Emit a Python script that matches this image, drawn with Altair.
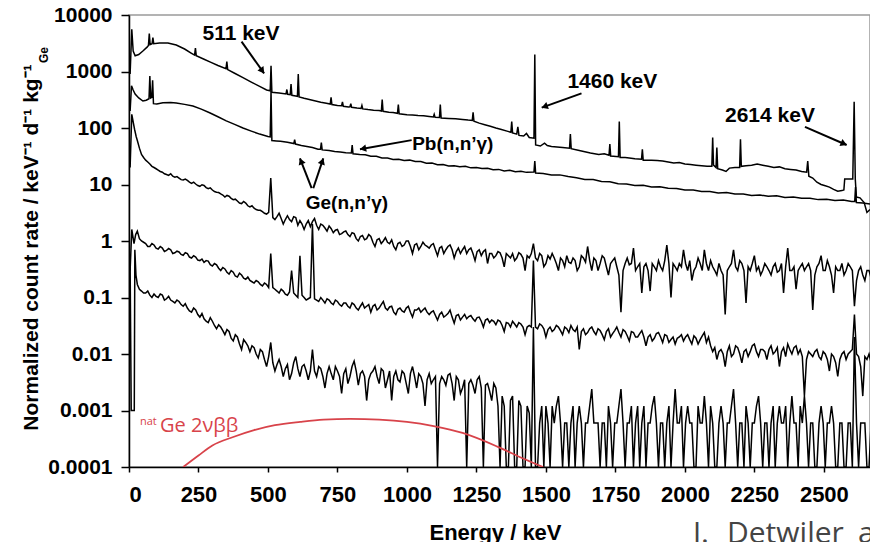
import math
import altair as alt
import pandas as pd

# ---------------- data ----------------
# Series A (top spectrum): (energy keV, rate)
A_POINTS = [
    (4, 900), (10, 5600), (15, 2300), (22, 1900), (35, 2000), (50, 2300), (65, 2700), (70, 2900),
    (73, 4700), (76, 3000), (83, 3100), (86, 4000), (89, 3100), (110, 3200), (140, 3200), (170, 2950),
    (200, 2500), (225, 2100), (236, 1950), (239, 2600), (242, 1900), (270, 1650), (295, 1450),
    (320, 1280), (349, 1120), (352, 1500), (355, 1080), (380, 930), (410, 780), (440, 650), (470, 545),
    (495, 470), (508, 455), (511, 1260), (514, 430), (540, 415), (565, 400), (568, 480), (571, 395),
    (580, 390), (583, 600), (586, 380), (600, 370), (606, 365), (609, 900), (612, 355), (630, 335),
    (660, 310), (690, 285), (710, 275), (724, 265), (727, 350), (730, 260), (750, 250), (765, 248),
    (768, 290), (771, 243), (790, 236), (795, 238), (798, 270), (801, 232), (820, 225), (835, 222),
    (838, 250), (841, 218), (860, 212), (880, 207), (900, 204), (908, 200), (911, 320), (914, 197),
    (935, 190), (950, 188), (966, 182), (969, 260), (972, 178), (1000, 172), (1020, 170), (1040, 166),
    (1060, 164), (1080, 160), (1095, 157), (1098, 175), (1101, 155), (1117, 153), (1120, 260),
    (1123, 150), (1150, 148), (1175, 146), (1200, 142), (1220, 138), (1235, 136), (1238, 190),
    (1241, 132), (1260, 122), (1280, 114), (1300, 107), (1320, 100), (1340, 94), (1360, 88),
    (1374, 84), (1377, 130), (1380, 82), (1395, 78), (1399, 105), (1403, 74), (1420, 72), (1430, 80),
    (1440, 68), (1457, 66), (1460, 2000), (1463, 50), (1480, 48), (1495, 54), (1505, 49), (1520, 47),
    (1540, 46), (1560, 45), (1585, 44), (1588, 78), (1591, 43), (1620, 40), (1640, 38), (1660, 36),
    (1690, 34), (1710, 35), (1727, 33), (1730, 52), (1733, 32), (1761, 31), (1764, 130), (1767, 30),
    (1785, 30), (1800, 29.5), (1820, 28.5), (1844, 28), (1847, 42), (1850, 27), (1880, 27),
    (1900, 26.5), (1920, 26), (1940, 25), (1960, 24), (1980, 24.5), (2000, 23), (2020, 22.5),
    (2040, 22), (2060, 21.5), (2080, 21), (2097, 21), (2100, 68), (2103, 22), (2112, 20), (2115, 45),
    (2118, 19), (2135, 18), (2148, 17), (2160, 19.5), (2180, 20), (2197, 20), (2200, 63), (2203, 21),
    (2220, 21.5), (2240, 22), (2260, 23), (2280, 22), (2300, 21), (2320, 20), (2340, 20.5),
    (2360, 19), (2380, 18.5), (2400, 18), (2420, 17), (2438, 16.5), (2442, 26), (2446, 14),
    (2460, 13), (2475, 11), (2490, 10), (2505, 9.5), (2520, 9), (2535, 8.2), (2550, 7.6), (2565, 7.8),
    (2572, 8), (2575, 12.5), (2598, 12.5), (2604, 12.5), (2609, 290), (2613, 12.5), (2617, 6),
    (2630, 5.8), (2645, 4.8), (2655, 3.2), (2666, 3.6),
]

# Series B (second spectrum)
B_POINTS = [
    (4, 200), (9, 560), (15, 470), (22, 400), (35, 340), (50, 300), (62, 310), (72, 330), (75, 830),
    (78, 340), (82, 350), (85, 700), (88, 270), (100, 265), (122, 280), (150, 282), (170, 276),
    (200, 262), (230, 245), (260, 216), (290, 186), (320, 158), (350, 134), (380, 116), (410, 100),
    (440, 88), (470, 78), (500, 71), (508, 70), (511, 450), (514, 60), (530, 59), (545, 58), (570, 56),
    (593, 53), (596, 62), (599, 52), (620, 49), (640, 47), (660, 45), (680, 42), (689, 42), (692, 55),
    (695, 41), (720, 40), (740, 38.5), (760, 37.5), (780, 36.5), (800, 36), (803, 50), (806, 35),
    (830, 34), (850, 33.5), (870, 31.5), (890, 31.5), (910, 29.5), (930, 29.5), (950, 27.8),
    (970, 28), (990, 26.5), (1010, 27), (1030, 25.5), (1050, 25.5), (1070, 23.8), (1090, 24),
    (1110, 22.3), (1130, 22.5), (1150, 21.2), (1170, 21.5), (1190, 20.6), (1210, 21), (1230, 19.7),
    (1250, 20), (1270, 19.2), (1290, 19.3), (1310, 18.3), (1330, 18.5), (1350, 17.3), (1370, 17.8),
    (1390, 16.8), (1410, 17.2), (1430, 16.4), (1457, 16.6), (1460, 26), (1463, 16), (1490, 15.7),
    (1520, 14.8), (1550, 14.8), (1580, 13.8), (1610, 13.2), (1640, 12.3), (1670, 12.2), (1700, 11.3),
    (1730, 11.2), (1760, 10.3), (1790, 10.2), (1820, 9.6), (1850, 9.7), (1880, 9.0), (1910, 9.1),
    (1940, 8.6), (1970, 8.5), (2000, 8.0), (2030, 8.0), (2060, 7.5), (2090, 7.5), (2120, 7.1),
    (2150, 7.2), (2180, 6.8), (2210, 6.8), (2240, 6.4), (2270, 6.5), (2300, 6.2), (2330, 6.3),
    (2360, 5.9), (2390, 6.0), (2420, 5.7), (2450, 5.7), (2480, 5.4), (2510, 5.5), (2540, 5.2),
    (2570, 5.3), (2600, 5.0), (2611, 5.0), (2614, 9), (2617, 4.8), (2640, 4.7), (2666, 4.5),
]

# Noisy spectra C, D, E: hand-read points at very low energy, then one value per 15-keV bin
# (GRID_E) plus one value at each half-bin in between (GRID_MID).
GRID_E = list(range(30, 2671, 15))
GRID_MID = [e + 7.5 for e in GRID_E[:-1]]

C_PRE = [(4, 20), (10, 175), (20, 95), (26, 70)]
C_VALS = [
    60, 34, 27, 23, 20, 18, 16.5, 15, 15.5, 13.5,
    13, 12, 11.8, 10.5, 10.2, 9.3, 9.6, 8.4, 8.0, 7.3,
    6.8, 6.0, 6.2, 5.4, 5.1, 4.6, 4.7, 4.0, 3.8, 3.5,
    3.3, 3.0, 13, 2.4, 3.1, 2.0, 2.8, 2.2, 2.6, 2.3,
    1.6, 2.3, 2.2, 1.9, 2.0, 1.7, 1.85, 1.4, 1.6, 1.35,
    1.5, 1.2, 1.35, 1.0, 1.25, 1.1, 1.2, 0.8, 1.1, 1.0,
    0.95, 1.05, 0.7, 0.95, 0.85, 1.0, 0.6, 0.9, 0.8, 0.85,
    0.75, 0.9, 0.55, 0.8, 0.7, 0.85, 0.5, 0.75, 0.7, 0.6,
    0.75, 0.45, 0.7, 0.65, 0.4, 0.6, 0.55, 0.62, 0.35, 0.55,
    0.6, 0.5, 0.58, 0.3, 0.5, 0.9, 0.45, 0.55, 0.4, 0.48,
    0.5, 0.3, 0.45, 0.55, 0.4, 0.45, 0.35, 0.5, 0.8, 0.3,
    0.45, 0.4, 0.5, 0.25, 0.45, 0.35, 0.055, 0.4, 0.38, 0.75,
    0.35, 0.12, 0.4, 0.13, 0.35, 0.45, 0.3, 0.85, 0.1, 0.35,
    0.4, 0.7, 0.3, 0.2, 0.35, 0.4, 0.7, 0.3, 0.35, 0.25,
    0.3, 0.05, 0.35, 0.7, 0.3, 0.4, 0.08, 0.3, 0.55, 0.35,
    0.3, 0.35, 0.25, 0.4, 0.3, 0.12, 0.75, 0.3, 0.14, 0.35,
    0.3, 0.4, 0.06, 0.35, 0.55, 0.3, 0.35, 0.12, 0.3, 0.4,
    0.3, 0.35, 0.07, 0.3, 0.25, 0.3, 0.22,
]
C_MID = [
    44, 30, 25, 21, 19, 17, 15.5, 14.5, 14, 13.8,
    12.2, 12.5, 11, 11, 9.6, 9.9, 8.8, 8.7, 7.5, 7.2,
    6.5, 6.4, 5.7, 5.5, 4.7, 5.0, 4.2, 4.2, 3.6, 3.5,
    3.1, 3.2, 2.6, 2.7, 2.5, 2.4, 2.4, 2.7, 1.9, 2.0,
    2.0, 1.8, 2.5, 1.6, 1.9, 1.5, 1.65, 1.55, 1.3, 1.45,
    1.3, 1.4, 1.1, 1.2, 1.05, 1.3, 0.95, 1.05, 0.9, 1.15,
    0.9, 0.8, 0.9, 0.8, 1.0, 0.8, 0.85, 0.7, 0.95, 0.8,
    0.85, 0.7, 0.75, 0.6, 0.8, 0.7, 0.65, 0.6, 0.8, 0.7,
    0.6, 0.65, 0.55, 0.7, 0.6, 0.5, 0.65, 0.5, 0.6, 0.5,
    0.45, 0.62, 0.5, 0.55, 0.6, 0.5, 0.6, 0.35, 0.55, 0.6,
    0.4, 0.5, 0.35, 0.42, 0.5, 0.3, 0.55, 0.42, 0.45, 0.5,
    0.3, 0.55, 0.35, 0.4, 0.5, 0.25, 0.3, 0.5, 0.4, 0.3,
    0.4, 0.35, 0.3, 0.4, 0.3, 0.35, 0.45, 0.4, 0.4, 0.3,
    0.35, 0.4, 0.45, 0.3, 0.5, 0.3, 0.4, 0.45, 0.3, 0.4,
    0.25, 0.3, 0.4, 0.35, 0.45, 0.3, 0.35, 0.4, 0.3, 0.25,
    0.4, 0.3, 0.35, 0.28, 0.4, 0.35, 0.3, 0.35, 0.3, 0.4,
    0.35, 0.3, 0.25, 0.4, 0.3, 0.45, 0.25, 0.35, 0.3, 0.25,
    0.4, 0.3, 0.2, 0.35, 0.2, 0.3,
]

D_PRE = [(4, 0.3), (10, 1.6), (18, 0.9), (24, 1.3)]
D_VALS = [
    1.5, 1.0, 0.9, 0.8, 0.85, 0.72, 0.75, 0.68, 0.7, 0.62,
    0.64, 0.56, 0.6, 0.5, 0.52, 0.45, 0.42, 0.44, 0.36, 0.38,
    0.3, 0.32, 0.26, 0.28, 0.23, 0.25, 0.21, 0.2, 0.18, 0.19,
    0.16, 0.17, 0.6, 0.14, 0.12, 0.13, 0.11, 0.3, 0.11, 0.55,
    0.1, 0.095, 2.0, 0.09, 0.1, 0.08, 0.09, 0.075, 0.085, 0.07,
    0.08, 0.065, 0.075, 0.06, 0.08, 0.07, 0.055, 0.075, 0.065, 0.085,
    0.06, 0.07, 0.05, 0.065, 0.055, 0.07, 0.045, 0.06, 0.055, 0.065,
    0.05, 0.058, 0.04, 0.055, 0.048, 0.06, 0.035, 0.05, 0.045, 0.042,
    0.048, 0.038, 0.045, 0.03, 0.042, 0.04, 0.033, 0.038, 0.025, 0.035,
    0.038, 0.03, 0.034, 0.022, 0.032, 0.45, 0.028, 0.032, 0.02, 0.03,
    0.027, 0.03, 0.022, 0.028, 0.032, 0.025, 0.012, 0.028, 0.024, 0.03,
    0.022, 0.026, 0.018, 0.028, 0.023, 0.03, 0.02, 0.025, 0.017, 0.024,
    0.02, 0.026, 0.014, 0.022, 0.019, 0.024, 0.016, 0.021, 0.018, 0.015,
    0.02, 0.017, 0.022, 0.015, 0.019, 0.018, 0.024, 0.02, 0.011, 0.008,
    0.012, 0.006, 0.014, 0.01, 0.013, 0.007, 0.012, 0.011, 0.015, 0.009,
    0.012, 0.008, 0.014, 0.011, 0.006, 0.013, 0.015, 0.01, 0.014, 0.012,
    0.0018, 0.011, 0.009, 0.012, 0.008, 0.01, 0.005, 0.009, 0.004, 0.01,
    0.008, 0.011, 0.05, 0.009, 0.0018, 0.008, 0.007,
]
D_MID = [
    1.1, 0.95, 0.8, 0.9, 0.75, 0.8, 0.65, 0.74, 0.6, 0.66,
    0.58, 0.62, 0.52, 0.55, 0.46, 0.48, 0.45, 0.38, 0.4, 0.33,
    0.34, 0.28, 0.3, 0.24, 0.27, 0.22, 0.23, 0.19, 0.2, 0.17,
    0.18, 0.15, 0.15, 0.13, 0.14, 0.115, 0.125, 0.12, 0.1, 0.11,
    0.09, 0.1, 0.095, 0.085, 0.09, 0.095, 0.08, 0.09, 0.075, 0.08,
    0.07, 0.08, 0.065, 0.07, 0.065, 0.075, 0.07, 0.06, 0.075, 0.065,
    0.068, 0.055, 0.062, 0.058, 0.065, 0.055, 0.06, 0.065, 0.06, 0.055,
    0.055, 0.048, 0.05, 0.045, 0.052, 0.045, 0.048, 0.04, 0.05, 0.046,
    0.042, 0.044, 0.038, 0.04, 0.036, 0.038, 0.04, 0.032, 0.036, 0.03,
    0.034, 0.036, 0.03, 0.03, 0.03, 0.03, 0.034, 0.028, 0.027, 0.025,
    0.032, 0.026, 0.03, 0.024, 0.027, 0.03, 0.025, 0.022, 0.028, 0.025,
    0.028, 0.022, 0.025, 0.02, 0.026, 0.024, 0.027, 0.021, 0.025, 0.02,
    0.023, 0.02, 0.02, 0.017, 0.023, 0.02, 0.022, 0.016, 0.02, 0.019,
    0.022, 0.02, 0.018, 0.021, 0.015, 0.021, 0.016, 0.014, 0.013, 0.011,
    0.01, 0.011, 0.009, 0.014, 0.01, 0.011, 0.009, 0.014, 0.011, 0.012,
    0.011, 0.012, 0.01, 0.013, 0.011, 0.009, 0.012, 0.013, 0.01, 0.009,
    0.008, 0.01, 0.011, 0.009, 0.011, 0.008, 0.01, 0.007, 0.008, 0.011,
    0.01, 0.012, 0.01, 0.006, 0.009, 0.01,
]

E_PRE = [(4, 0.4), (8, 0.001), (19, 0.001), (21, 0.7), (25, 0.25)]
E_VALS = [
    0.17, 0.13, 0.12, 0.11, 0.115, 0.1, 0.11, 0.095, 0.09, 0.08,
    0.085, 0.07, 0.065, 0.055, 0.06, 0.045, 0.042, 0.036, 0.038, 0.028,
    0.03, 0.022, 0.025, 0.017, 0.02, 0.012, 0.016, 0.011, 0.013, 0.0085,
    0.011, 0.006, 0.016, 0.005, 0.008, 0.004, 0.0065, 0.0045, 0.009, 0.004,
    0.0065, 0.0035, 0.012, 0.004, 0.0055, 0.0025, 0.006, 0.0035, 0.005, 0.002,
    0.0055, 0.004, 0.0075, 0.0028, 0.005, 0.0015, 0.0045, 0.006, 0.003, 0.005,
    0.0035, 0.0015, 0.005, 0.0032, 0.0045, 0.002, 0.006, 0.0025, 0.004, 0.0012,
    0.0045, 0.0035, 0.0001, 0.004, 0.0028, 0.0045, 0.0015, 0.0035, 0.0025, 0.0001,
    0.0035, 0.002, 0.004, 0.0001, 0.003, 0.0015, 0.0025, 0.0001, 0.0012, 0.0001,
    0.0018, 0.0001, 0.0012, 0.0001, 0.0009, 0.03, 0.0001, 0.0012, 0.0012, 0.0001,
    0.0006, 0.0018, 0.0001, 0.0006, 0.0006, 0.0001, 0.0012, 0.0001, 0.0006, 0.0024,
    0.0006, 0.0001, 0.0006, 0.0012, 0.0001, 0.0006, 0.0024, 0.0001, 0.0006, 0.0001,
    0.0012, 0.0006, 0.0001, 0.0006, 0.0018, 0.0001, 0.0006, 0.0006, 0.0001, 0.0024,
    0.0006, 0.0001, 0.0012, 0.0006, 0.0001, 0.0006, 0.0018, 0.0001, 0.0006, 0.0001,
    0.0012, 0.0001, 0.0006, 0.0024, 0.0001, 0.0006, 0.0012, 0.0001, 0.0006, 0.0018,
    0.0001, 0.0006, 0.0006, 0.0001, 0.0012, 0.0006, 0.0001, 0.0018, 0.0006, 0.0012,
    0.0018, 0.0001, 0.0006, 0.0001, 0.0012, 0.0001, 0.0006, 0.0006, 0.0001, 0.0006,
    0.0001, 0.0006, 0.02, 0.0001, 0.0006, 0.0001, 0.0006,
]
E_MID = [
    0.14, 0.12, 0.13, 0.1, 0.105, 0.115, 0.09, 0.105, 0.085, 0.09,
    0.075, 0.078, 0.058, 0.065, 0.05, 0.052, 0.038, 0.044, 0.032, 0.033,
    0.026, 0.027, 0.019, 0.022, 0.015, 0.018, 0.014, 0.014, 0.01, 0.012,
    0.008, 0.009, 0.007, 0.0065, 0.006, 0.0055, 0.0035, 0.007, 0.0055, 0.006,
    0.005, 0.005, 0.005, 0.006, 0.004, 0.0045, 0.0045, 0.006, 0.004, 0.0045,
    0.003, 0.006, 0.005, 0.0045, 0.004, 0.0035, 0.005, 0.004, 0.0055, 0.0025,
    0.005, 0.004, 0.0035, 0.005, 0.003, 0.0045, 0.004, 0.0045, 0.003, 0.0035,
    0.003, 0.004, 0.003, 0.0035, 0.0042, 0.003, 0.004, 0.002, 0.0035, 0.003,
    0.0028, 0.0035, 0.0025, 0.0028, 0.0022, 0.003, 0.0012, 0.0018, 0.0001, 0.0015,
    0.0001, 0.0015, 0.0001, 0.0012, 0.0001, 0.0001, 0.0006, 0.0001, 0.0006, 0.0012,
    0.0012, 0.0006, 0.0006, 0.0001, 0.0012, 0.0006, 0.0006, 0.0006, 0.0012, 0.0006,
    0.0006, 0.0006, 0.0001, 0.0006, 0.0006, 0.0012, 0.0006, 0.0006, 0.0012, 0.0006,
    0.0001, 0.0012, 0.0006, 0.0012, 0.0006, 0.0006, 0.0001, 0.0012, 0.0006, 0.0006,
    0.0012, 0.0006, 0.0006, 0.0001, 0.0012, 0.0006, 0.0006, 0.0012, 0.0001, 0.0006,
    0.0006, 0.0006, 0.0012, 0.0006, 0.0006, 0.0001, 0.0006, 0.0006, 0.0012, 0.0006,
    0.0006, 0.0001, 0.0012, 0.0006, 0.0006, 0.0012, 0.0006, 0.0006, 0.0001, 0.0006,
    0.0006, 0.0006, 0.0001, 0.0006, 0.0006, 0.0006, 0.0012, 0.0001, 0.0006, 0.0001,
    0.0006, 0.0001, 0.0006, 0.0006, 0.0006, 0.0001,
]

# natGe 2vbb spectrum (red)
BB_E = [195, 250, 300, 375, 450, 525, 616, 700, 796, 900, 1000, 1096, 1200, 1325, 1420, 1490]
BB_V = [0.0001, 0.00016, 0.00024, 0.00034, 0.00045, 0.00055, 0.00063, 0.00069, 0.00071,
        0.00069, 0.00063, 0.00053, 0.0004, 0.00023, 0.00014, 0.0001]

# Annotations (energy, rate)
BIG_LABELS = ["511 keV", "1460 keV", "2614 keV"]
BIG_E = [403, 1739, 2306]
BIG_V = [3540, 511, 128]
SMALL_LABELS = ["Pb(n,n’γ)", "Ge(n,n’γ)"]
SMALL_E = [1165, 784]
SMALL_V = [40.8, 3.64]
ARROW_E1 = [405, 1017, 657, 663, 1628, 2432]
ARROW_V1 = [3370, 61, 8.6, 8.6, 411, 105]
ARROW_E2 = [486, 831, 615, 699, 1485, 2582]
ARROW_V2 = [929, 42, 29, 29, 229, 50]

X_TICKS = [0, 250, 500, 750, 1000, 1250, 1500, 1750, 2000, 2250, 2500]
Y_TICKS = [0.0001, 0.001, 0.01, 0.1, 1, 10, 100, 1000, 10000]

# credit line at the bottom (pieces, pixel positions relative to the plot origin)
CREDIT_TEXT = ["J.", "Detwiler", "and"]
CREDIT_X = [564, 598, 729]

# ---------------- assemble tables ----------------
assert len(C_VALS) == len(GRID_E) and len(D_VALS) == len(GRID_E) and len(E_VALS) == len(GRID_E)
assert len(C_MID) == len(GRID_MID) and len(D_MID) == len(GRID_MID) and len(E_MID) == len(GRID_MID)

rows = []
for name, pts in [("A", A_POINTS), ("B", B_POINTS)]:
    for e, v in pts:
        rows.append({"series": name, "energy": e, "rate": v})
for name, pre, vals, mids in [("C", C_PRE, C_VALS, C_MID), ("D", D_PRE, D_VALS, D_MID),
                              ("E", E_PRE, E_VALS, E_MID)]:
    for e, v in pre:
        rows.append({"series": name, "energy": e, "rate": v})
    for e, v in zip(GRID_E, vals):
        rows.append({"series": name, "energy": e, "rate": v})
    for e, v in zip(GRID_MID, mids):
        rows.append({"series": name, "energy": e, "rate": v})
spec_df = pd.DataFrame(rows).sort_values(["series", "energy"]).reset_index(drop=True)

bb_df = pd.DataFrame({"energy": BB_E, "rate": BB_V})
big_df = pd.DataFrame({"label": BIG_LABELS, "energy": BIG_E, "rate": BIG_V})
small_df = pd.DataFrame({"label": SMALL_LABELS, "energy": SMALL_E, "rate": SMALL_V})
credit_df = pd.DataFrame({"t": CREDIT_TEXT, "px": CREDIT_X})

W, H = 741, 452
XMAX = 2666
kx = W / XMAX
ky = H / 8.0

arr_rows = []
head_rows = []
for e1, v1, e2, v2 in zip(ARROW_E1, ARROW_V1, ARROW_E2, ARROW_V2):
    dx = (e2 - e1) * kx
    dy = -(math.log10(v2) - math.log10(v1)) * ky
    L = math.hypot(dx, dy)
    ux, uy = dx / L, dy / L
    ang = math.degrees(math.atan2(dx, -dy)) % 360
    back = 3.0
    he = e2 - ux * back / kx
    hv = 10 ** (math.log10(v2) + uy * back / ky)
    arr_rows.append({"energy": e1, "rate": v1, "energy2": e2, "rate2": v2})
    head_rows.append({"energy": he, "rate": hv, "ang": ang})
arr_df = pd.DataFrame(arr_rows)
head_df = pd.DataFrame(head_rows)

# ---------------- chart ----------------
x_scale = alt.Scale(domain=[0, XMAX], nice=False, zero=False)
y_scale = alt.Scale(type="log", domain=[0.0001, 10000], nice=False)
FONT = "Liberation Sans"
RED = "#d8434a"

x_axis = alt.Axis(
    values=X_TICKS, format="d", title="Energy / keV", labelFontSize=22, labelPadding=12, tickSize=5,
    titleFontSize=22, titleX=366, titleY=72, titleBaseline="alphabetic", titleAlign="center",
)
y_axis = alt.Axis(
    values=Y_TICKS, format="~g", title="Normalized count rate / keV⁻¹ d⁻¹ kg⁻¹",
    labelFontSize=21, labelPadding=9, tickSize=8, titleFontSize=21, titleAngle=270,
    titleX=-92, titleY=232, titleAlign="center", titleBaseline="alphabetic",
)


def X():
    return alt.X("energy:Q", scale=x_scale, axis=x_axis)


def Y():
    return alt.Y("rate:Q", scale=y_scale, axis=y_axis)


spectra = alt.Chart(spec_df).mark_line(color="black", strokeWidth=1.5, clip=True).encode(
    x=X(), y=Y(), detail="series:N",
)

bb = alt.Chart(bb_df).mark_line(color=RED, strokeWidth=1.8, interpolate="monotone", clip=True).encode(
    x=X(), y=Y(),
)

big_text = alt.Chart(big_df).mark_text(
    font=FONT, fontSize=21, fontWeight="bold", color="black", align="center", baseline="alphabetic"
).encode(x=X(), y=Y(), text="label:N")

small_text = alt.Chart(small_df).mark_text(
    font=FONT, fontSize=19, fontWeight="bold", color="black", align="center", baseline="alphabetic"
).encode(x=X(), y=Y(), text="label:N")

shafts = alt.Chart(arr_df).mark_rule(color="black", strokeWidth=2).encode(
    x=X(), y=Y(), x2="energy2:Q", y2="rate2:Q",
)

heads = alt.Chart(head_df).mark_point(
    shape="triangle-up", filled=True, color="black", size=55, opacity=1, strokeWidth=0
).encode(x=X(), y=Y(), angle=alt.Angle("ang:Q", scale=None))

nat_text = alt.Chart(pd.DataFrame({"t": ["nat"], "energy": [39.6], "rate": [0.00055]})).mark_text(
    font="Open Sans", fontSize=11, color=RED, align="left", baseline="alphabetic"
).encode(x=X(), y=Y(), text="t:N")
ge_text = alt.Chart(pd.DataFrame({"t": ["Ge 2νββ"], "energy": [111.5], "rate": [0.000416]})).mark_text(
    font="Open Sans", fontSize=20, color=RED, align="left", baseline="alphabetic"
).encode(x=X(), y=Y(), text="t:N")

sub_ge = alt.Chart(pd.DataFrame({"t": ["Ge"]})).mark_text(
    font=FONT, fontSize=12, fontWeight="bold", color="black", angle=270,
    align="center", baseline="middle",
).encode(x=alt.value(-85), y=alt.value(40), text="t:N")

credit = alt.Chart(credit_df).mark_text(
    font="Open Sans", fontSize=30, color="#444444", align="left", baseline="alphabetic",
).encode(x=alt.X("px:Q", scale=None, axis=None), y=alt.value(528), text="t:N")

chart = alt.layer(
    spectra, bb, shafts, heads, big_text, small_text, nat_text, ge_text, sub_ge, credit
).properties(
    width=W, height=H,
    padding={"left": 129, "top": 15, "right": 0, "bottom": 75},
    autosize=alt.AutoSizeParams(type="none"),
    background="white",
).configure_view(
    stroke="#9a9a9a", strokeWidth=1.5,
).configure_axis(
    grid=False, domainColor="black", domainWidth=1.5, tickColor="black", tickWidth=1.5,
    labelFont=FONT, labelFontWeight="bold", labelColor="black",
    titleFont=FONT, titleFontWeight="bold", titleColor="black",
)

chart.save("out.html", embed_options={"renderer": "svg", "actions": False})
